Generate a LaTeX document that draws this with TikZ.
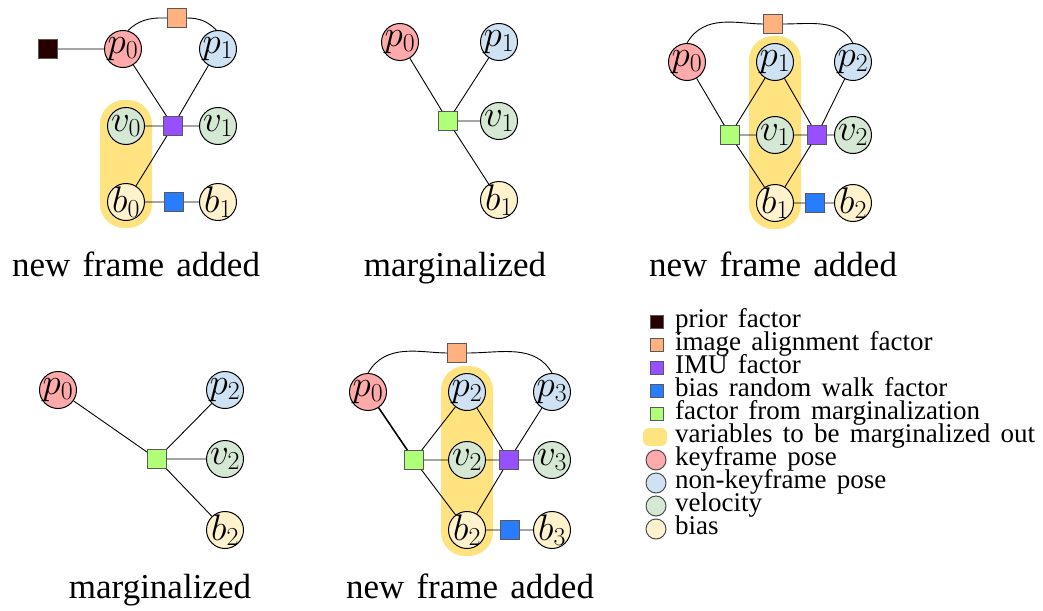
\RequirePackage{fix-cm}
\documentclass[tikz,border=0pt]{standalone}
\usepackage{fontspec}
\setmainfont{Liberation Serif}
\usetikzlibrary{fit,backgrounds}
\definecolor{priorc}{RGB}{40,0,0}
\definecolor{imgc}{RGB}{255,178,127}
\definecolor{imuc}{RGB}{150,80,255}
\definecolor{biasfc}{RGB}{40,125,255}
\definecolor{margc}{RGB}{175,255,120}
\definecolor{hlc}{RGB}{255,227,128}
\definecolor{kfc}{RGB}{255,170,170}
\definecolor{nkfc}{RGB}{207,226,243}
\definecolor{velc}{RGB}{213,232,212}
\definecolor{biasc}{RGB}{255,242,204}
\newcommand\capfont{\fontsize{35}{35}\selectfont\spaceskip=0.35em\relax}
\newcommand\legfont{\fontsize{27}{27}\selectfont\spaceskip=0.38em\relax}
\newcommand\lab[1]{\makebox[0pt]{$#1$}}
\begin{document}
\begin{tikzpicture}[x=1pt,y=-1pt,
  var/.style={draw, circle, line width=1pt, minimum size=37pt, inner sep=0pt, font=\fontsize{37}{37}\selectfont},
  fac/.style={draw=black!65, line width=0.8pt, minimum size=19pt, inner sep=0pt},
  hl/.style={fill=hlc, rounded corners=24pt, inner sep=7pt},
  captext/.style={font=\capfont, anchor=base},
  leg/.style={font=\legfont, anchor=west, inner sep=0pt, text height=14pt, text depth=4pt},
  link/.style={line width=0.9pt}]
\useasboundingbox (0,0) rectangle (1043,610);

% panel 1
\begin{scope}[name prefix=a-]
\node (pr) at (48,49) [fac, fill=priorc] {};
\node (ia) at (177,18) [fac, fill=imgc] {};
\node (p0) at (123,49) [var, fill=kfc] {\lab{p_0}};
\node (p1) at (218,49) [var, fill=nkfc] {\lab{p_1}};
\node (v0) at (126,126) [var, fill=velc] {\lab{v_0}};
\node (imu) at (173,126) [fac, fill=imuc] {};
\node (v1) at (218,126) [var, fill=velc] {\lab{v_1}};
\node (b0) at (126,202) [var, fill=biasc] {\lab{b_0}};
\node (bw) at (174,202) [fac, fill=biasfc] {};
\node (b1) at (218,202) [var, fill=biasc] {\lab{b_1}};
\begin{scope}[on background layer]
\node (hl) [hl, fit=(v0)(b0)] {};
\end{scope}
\draw[link]
(pr) to (p0)
(p0.75) to[out=45,in=180] (ia)
(ia) to[out=0,in=135] (p1.95)
(p0) to (imu)
(p1) to (imu)
(v0) to (imu)
(v1) to (imu)
(b0) to (imu)
(b0) to (bw)
(bw) to (b1);
\node (cap) at (136,276) [captext] {new frame added};
\end{scope}

% panel 2
\begin{scope}[name prefix=b-]
\node (p0) at (400,42) [var, fill=kfc] {\lab{p_0}};
\node (p1) at (499,42) [var, fill=nkfc] {\lab{p_1}};
\node (mg) at (448,121) [fac, fill=margc] {};
\node (v1) at (499,121) [var, fill=velc] {\lab{v_1}};
\node (b1) at (499,200) [var, fill=biasc] {\lab{b_1}};
\draw[link]
(p0) to (mg)
(p1) to (mg)
(v1) to (mg)
(b1) to (mg);
\node (cap) at (455,276) [captext] {marginalized};
\end{scope}

% panel 3
\begin{scope}[name prefix=c-]
\node (ia) at (773,24) [fac, fill=imgc] {};
\node (p0) at (687,62) [var, fill=kfc] {\lab{p_0}};
\node (p1) at (775,62) [var, fill=nkfc] {\lab{p_1}};
\node (p2) at (853,62) [var, fill=nkfc] {\lab{p_2}};
\node (mg) at (730,135) [fac, fill=margc] {};
\node (v1) at (775,135) [var, fill=velc] {\lab{v_1}};
\node (imu) at (817,135) [fac, fill=imuc] {};
\node (v2) at (853,135) [var, fill=velc] {\lab{v_2}};
\node (b1) at (775,203) [var, fill=biasc] {\lab{b_1}};
\node (bw) at (815,203) [fac, fill=biasfc] {};
\node (b2) at (853,203) [var, fill=biasc] {\lab{b_2}};
\begin{scope}[on background layer]
\node (hl) [hl, fit=(p1)(b1)] {};
\end{scope}
\draw[link]
(p0.north) to[out=60,in=180] (ia)
(ia) to[out=0,in=120] (p2.north)
(p0) to (mg)
(p1) to (mg)
(v1) to (mg)
(b1) to (mg)
(p1) to (imu)
(p2) to (imu)
(v1) to (imu)
(v2) to (imu)
(b1) to (imu)
(b1) to (bw)
(bw) to (b2);
\node (cap) at (773,276) [captext] {new frame added};
\end{scope}

% panel 4
\begin{scope}[name prefix=d-]
\node (p0) at (58,390) [var, fill=kfc] {\lab{p_0}};
\node (p2) at (225,390) [var, fill=nkfc] {\lab{p_2}};
\node (mg) at (157,459) [fac, fill=margc] {};
\node (v2) at (225,459) [var, fill=velc] {\lab{v_2}};
\node (b2) at (225,530) [var, fill=biasc] {\lab{b_2}};
\draw[link]
(p0) to (mg)
(p2) to (mg)
(v2) to (mg)
(b2) to (mg);
\node (cap) at (160,598) [captext] {marginalized};
\end{scope}

% panel 5
\begin{scope}[name prefix=e-]
\node (ia) at (457,353) [fac, fill=imgc] {};
\node (p0) at (368,392) [var, fill=kfc] {\lab{p_0}};
\node (p2) at (467,392) [var, fill=nkfc] {\lab{p_2}};
\node (p3) at (552,392) [var, fill=nkfc] {\lab{p_3}};
\node (mg) at (414,460) [fac, fill=margc] {};
\node (v2) at (467,460) [var, fill=velc] {\lab{v_2}};
\node (imu) at (509,460) [fac, fill=imuc] {};
\node (v3) at (552,460) [var, fill=velc] {\lab{v_3}};
\node (b2) at (467,530) [var, fill=biasc] {\lab{b_2}};
\node (bw) at (510,530) [fac, fill=biasfc] {};
\node (b3) at (552,530) [var, fill=biasc] {\lab{b_3}};
\begin{scope}[on background layer]
\node (hl) [hl, fit=(p2)(b2)] {};
\end{scope}
\draw[link]
(p0.north) to[out=60,in=180] (ia)
(ia) to[out=0,in=120] (p3.north)
(p2) to (mg)
(v2) to (mg)
(b2) to (mg)
(p2) to (imu)
(p3) to (imu)
(v2) to (imu)
(v3) to (imu)
(b2) to (imu)
(b2) to (bw)
(bw) to (b3);
\draw[line width=1.6pt] (p0) to (mg);
\node (cap) at (470,598) [captext] {new frame added};
\end{scope}

% legend
\begin{scope}[name prefix=l-, fac/.append style={minimum size=13pt}, var/.append style={minimum size=20pt, draw=black!70}]
\node (f1) at (657,322) [fac, fill=priorc] {};
\node (f2) at (657,345) [fac, fill=imgc] {};
\node (f3) at (657,368) [fac, fill=imuc] {};
\node (f4) at (657,391) [fac, fill=biasfc] {};
\node (f5) at (657,414) [fac, fill=margc] {};
\node (f6) at (655,437) [fill=hlc, rounded corners=6pt, minimum width=24pt, minimum height=18pt, inner sep=0pt] {};
\node (f7) at (656,460) [var, fill=kfc] {};
\node (f8) at (656,483) [var, fill=nkfc] {};
\node (f9) at (656,506) [var, fill=velc] {};
\node (f10) at (656,529) [var, fill=biasc] {};
\node (t1) at (675,322) [leg] {prior factor};
\node (t2) at (675,345) [leg] {image alignment factor};
\node (t3) at (675,368) [leg] {IMU factor};
\node (t4) at (675,391) [leg] {bias random walk factor};
\node (t5) at (675,414) [leg] {factor from marginalization};
\node (t6) at (675,437) [leg] {variables to be marginalized out};
\node (t7) at (675,460) [leg] {keyframe pose};
\node (t8) at (675,483) [leg] {non-keyframe pose};
\node (t9) at (675,506) [leg] {velocity};
\node (t10) at (675,529) [leg] {bias};
\end{scope}
\end{tikzpicture}
\end{document}
